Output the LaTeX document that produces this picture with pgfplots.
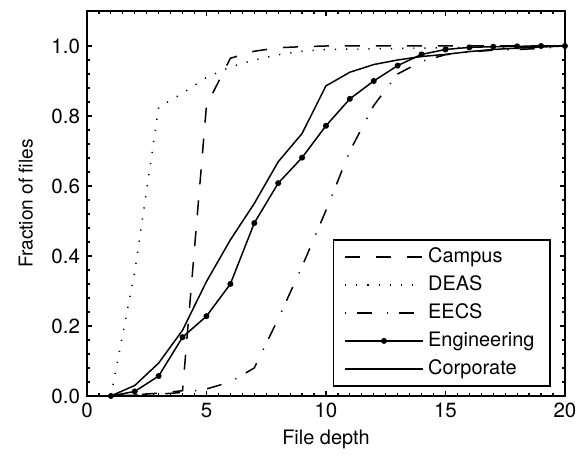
\documentclass[border=0pt]{standalone}
\usepackage{fontspec}
\setmainfont{TeX Gyre Heros}
\usepackage{pgfplots}
\pgfplotsset{compat=1.18}

% cumulative fraction of files by depth
\pgfplotstableread{
x   campus  deas   eecs   eng    corp
1   0.000   0.000  0.000  0.000  0.000
2   0.003   0.355  0.002  0.013  0.030
3   0.008   0.825  0.005  0.057  0.094
4   0.015   0.865  0.010  0.168  0.188
5   0.830   0.910  0.020  0.228  0.327
6   0.965   0.940  0.040  0.320  0.446
7   0.985   0.960  0.080  0.494  0.550
8   0.995   0.975  0.220  0.608  0.669
9   0.998   0.985  0.370  0.681  0.750
10  1.000   0.990  0.530  0.772  0.886
11  1.000   0.991  0.700  0.849  0.925
12  1.000   0.992  0.830  0.900  0.947
13  1.000   0.993  0.920  0.944  0.960
14  1.000   0.994  0.956  0.976  0.970
15  1.000   0.995  0.975  0.990  0.976
16  1.000   0.996  0.983  0.996  0.984
17  1.000   0.997  0.988  0.998  0.990
18  1.000   0.998  0.990  0.999  0.994
19  1.000   0.999  0.993  1.000  0.997
20  1.000   1.000  1.000  1.000  1.000
}\depth

\begin{document}
\begin{tikzpicture}[font=\fontsize{10}{12}\selectfont]
\begin{axis}[
  scale only axis,
  width=239bp, height=192.5bp,
  xmin=0, xmax=20, ymin=0, ymax=1.1,
  xtick={0,5,10,15,20},
  ytick={0,0.2,0.4,0.6,0.8,1.0},
  minor x tick num=9,
  minor y tick num=4,
  yticklabel style={/pgf/number format/.cd, fixed, fixed zerofill, precision=1},
  /pgf/number format/assume math mode=true,
  ticklabel style={font=\fontsize{10.3}{12}\selectfont},
  tick align=inside,
  major tick length=2.5bp,
  minor tick length=1.3bp,
  axis line style={line width=1bp},
  every tick/.style={line width=0.6bp, black},
  xlabel={File depth},
  ylabel={Fraction of files},
  xlabel style={at={(axis description cs:0.5,-0.112)}, anchor=center},
  ylabel style={at={(axis description cs:-0.128,0.5)}, anchor=center,
    font=\fontsize{9.6}{11}\selectfont},
  legend cell align=left,
  legend style={at={(axis cs:19.4,0.027)}, anchor=south east,
    font=\fontsize{10}{12}\selectfont,
    draw=black, line width=0.6bp, inner xsep=5.5bp, inner ysep=1.5bp, row sep=0pt,
    nodes={inner xsep=2.25bp, inner ysep=1.5bp, text height=8.5bp, text depth=2.5bp}},
  legend image code/.code={\draw[mark repeat=2,mark phase=2,#1]
    plot coordinates {(0bp,0bp) (19.5bp,0bp) (39bp,0bp)};},
  every axis plot/.append style={black, line width=0.75bp},
]
\addplot[dash pattern=on 7.5bp off 8bp] table[x=x, y=campus] {\depth};
\addlegendentry{Campus}
\addplot[dash pattern=on 0.6bp off 5bp] table[x=x, y=deas] {\depth};
\addlegendentry{DEAS}
\addplot[dash pattern=on 0.6bp off 5.5bp on 7.5bp off 7.5bp] table[x=x, y=eecs] {\depth};
\addlegendentry{EECS}
\addplot[mark=*, mark size=1.1bp] table[x=x, y=eng] {\depth};
\addlegendentry{Engineering}
\addplot[solid, mark=none] table[x=x, y=corp] {\depth};
\addlegendentry{Corporate}
\end{axis}
\path ([shift={(-43.5bp,-31bp)}]current axis.south west) rectangle ([shift={(9bp,5.5bp)}]current axis.north east);
\end{tikzpicture}
\end{document}
